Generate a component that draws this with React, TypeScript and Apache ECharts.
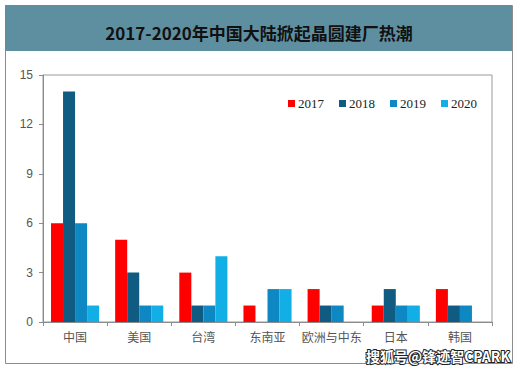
import React, { useEffect, useRef } from "react";
import * as echarts from "echarts";

const categories = ["中国", "美国", "台湾", "东南亚", "欧洲与中东", "日本", "韩国"];
const seriesNames = ["2017", "2018", "2019", "2020"];
const v2017 = [6, 5, 3, 1, 2, 1, 2];
const v2018 = [14, 3, 1, 0, 1, 2, 1];
const v2019 = [6, 1, 1, 2, 1, 1, 1];
const v2020 = [1, 1, 4, 2, 0, 1, 0];
const yTicks = [0, 3, 6, 9, 12, 15];
const colors = ["#FF0000", "#0F5B82", "#0E88C2", "#12AEE6"];
const title = "2017-2020年中国大陆掀起晶圆建厂热潮";
const watermark = "搜狐号@锋迹智CPARK";

export default function App() {
  const ref = useRef<HTMLDivElement>(null);
  useEffect(() => {
    const chart = echarts.init(ref.current!, null, { renderer: "svg" });
    const values = [v2017, v2018, v2019, v2020];
    chart.setOption({
      animation: false,
      backgroundColor: "#fff",
      graphic: [
        {
          type: "rect",
          shape: { x: 5.5, y: 5.5, width: 507, height: 358 },
          style: { fill: "#fff", stroke: "#8c8c8c", lineWidth: 1 },
          z: -10,
        },
        {
          type: "rect",
          shape: { x: 5, y: 5, width: 507, height: 46 },
          style: { fill: "#5E8FA1" },
          z: -5,
        },
        {
          type: "text",
          x: 259,
          y: 32,
          style: {
            text: title,
            fill: "#111",
            font: "bold 17px 'Noto Sans CJK SC', serif",
            align: "center",
            verticalAlign: "middle",
          },
        },
        {
          type: "text",
          x: 510,
          y: 356,
          z: 100,
          style: {
            text: watermark,
            fill: "#fff",
            stroke: "#222",
            lineWidth: 2,
            font: "bold 14px 'Noto Sans CJK SC', sans-serif",
            align: "right",
            verticalAlign: "middle",
          },
        },
      ],
      legend: {
        data: seriesNames,
        top: 92,
        left: 283,
        itemWidth: 7,
        itemHeight: 7,
        itemGap: 15,
        icon: "rect",
        textStyle: {
          fontFamily: "'Liberation Serif', serif",
          fontSize: 13,
          color: "#222",
          padding: [0, 0, 0, -2],
        },
      },
      grid: {
        left: 43,
        right: 27,
        top: 75,
        bottom: 47,
        show: true,
        borderColor: "#9a9a9a",
        borderWidth: 1,
        backgroundColor: "transparent",
      },
      xAxis: {
        type: "category",
        data: categories,
        axisLine: { lineStyle: { color: "#8c8c8c" } },
        axisTick: { show: true, length: 4, lineStyle: { color: "#8c8c8c" } },
        axisLabel: {
          color: "#555",
          fontSize: 12,
          fontFamily: "'Noto Sans CJK SC', sans-serif",
          margin: 8,
          interval: 0,
        },
      },
      yAxis: {
        type: "value",
        min: 0,
        max: yTicks[yTicks.length - 1],
        interval: 3,
        axisLine: { show: true, lineStyle: { color: "#8c8c8c" } },
        axisTick: { show: true, length: 4, lineStyle: { color: "#8c8c8c" } },
        splitLine: { show: false },
        axisLabel: {
          color: "#555",
          fontSize: 12,
          fontFamily: "'Liberation Sans', Arial, sans-serif",
          margin: 10,
        },
      },
      series: seriesNames.map((name, i) => ({
        name,
        type: "bar",
        data: values[i],
        barGap: "0%",
        barCategoryGap: "25%",
        itemStyle: { color: colors[i] },
      })),
    });
    return () => chart.dispose();
  }, []);
  return <div ref={ref} style={{ width: 519, height: 369, position: "absolute", left: 0, top: 0 }} />;
}
